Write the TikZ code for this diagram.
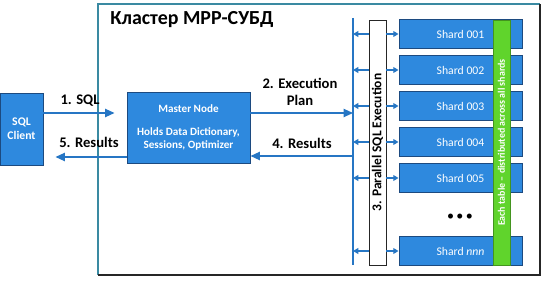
\documentclass[tikz,border=0pt]{standalone}
\usepackage{fontspec}
\setmainfont{Carlito}
\usetikzlibrary{arrows.meta}
\definecolor{MppBlue}{RGB}{46,137,222}
\definecolor{MppEdge}{RGB}{28,74,128}
\definecolor{MppArrow}{RGB}{38,118,196}
\definecolor{MppTeal}{RGB}{58,138,162}
\definecolor{MppGreen}{RGB}{96,212,44}

\begin{document}
\begin{tikzpicture}[x=0.03cm, y=-0.03cm,
      bluebox/.style={rectangle, fill=MppBlue, draw=MppEdge, line width=0.8pt,
                      text=white, align=center, inner sep=0pt},
      shardbox/.style={bluebox, minimum width=3.69cm, minimum height=0.87cm,
                       font=\fontsize{10}{12}\selectfont},
      lbl/.style={font=\fontsize{12.5}{14.5}\selectfont\bfseries, align=center},
      arr/.style={-{Triangle[length=8pt, width=7pt]}, draw=MppArrow, line width=1.3pt},
      tick/.style={-{Triangle[length=4.5pt, width=5pt]}, draw=MppArrow, line width=1pt}
    ]
    \useasboundingbox (0,0) rectangle (548,283);

    % cluster frame
    \draw[MppTeal, line width=1.2pt] (98,275) -- (98,4) -- (540,4);
    \draw[black!85, line width=1.2pt] (540,4) -- (540,275) -- (98,275);
    \node[font=\fontsize{17}{19}\selectfont\bfseries] (title) at (192,20) {Кластер МРР-СУБД};

    \node[bluebox, minimum width=1.29cm, minimum height=2.16cm,
          font=\fontsize{10}{12}\selectfont\bfseries] (client) at (21.5,129)
          {SQL\\Client};
    \node[bluebox, minimum width=3.69cm, minimum height=2.13cm,
          font=\fontsize{9.5}{11.5}\selectfont\bfseries] (master) at (188.5,127.5)
          {Master Node\\[8pt]Holds Data Dictionary,\\Sessions, Optimizer};

    \coordinate (bustop) at (353,18);
    \coordinate (busbot) at (353,265);
    \draw[MppArrow, line width=1.3pt] (bustop) -- (busbot);

    \foreach \y/\num [count=\k] in {34/001, 70/002, 106/003, 142/004, 178/005, 251/{\textit{nnn}}}{
      \node[shardbox] (shard\k) at (460.5,\y) {Shard \num};
    }
    \node[font=\fontsize{12}{14}\selectfont] (dots) at (460,217)
          {\textbullet\,\textbullet\,\textbullet};

    \node[rectangle, fill=MppGreen, draw=MppGreen!70!black, line width=0.6pt,
          minimum width=0.51cm, minimum height=7.35cm, inner sep=0pt,
          text=white, font=\fontsize{8.5}{10}\selectfont\bfseries] (spread) at (501.5,142.5)
          {\rotatebox{90}{Each table -- distributed across all shards}};
    \node[rectangle, fill=white, draw=black!85, line width=0.8pt,
          minimum width=0.51cm, minimum height=7.35cm, inner sep=0pt,
          font=\fontsize{11.5}{13}\selectfont\bfseries] (exec) at (377.5,142.5)
          {\rotatebox{90}{3. Parallel SQL Execution}};

    \foreach \k in {1,...,6}{
      \draw[tick] (exec.west |- shard\k) -- (bustop |- shard\k);
      \draw[tick] (exec.east |- shard\k) -- (shard\k.west);
    }

    \draw[arr, shorten >=12*0.03cm] (client.east |- 0,113) -- (master.west |- 0,113);
    \draw[arr, shorten >=12*0.03cm] (master.west |- 0,157) -- (client.east |- 0,157);
    \draw[arr] (master.east |- 0,113) -- (bustop |- 0,113);
    \draw[arr] (bustop |- 0,156) -- (master.east |- 0,156);

    \node[lbl] (l1) at (80,101) {1. SQL};
    \node[lbl] (l5) at (89,142) {5. Results};
    \node[lbl] (l2) at (300,92) {2. Execution\\Plan};
    \node[lbl] (l4) at (302,143) {4. Results};
  \end{tikzpicture}
\end{document}
